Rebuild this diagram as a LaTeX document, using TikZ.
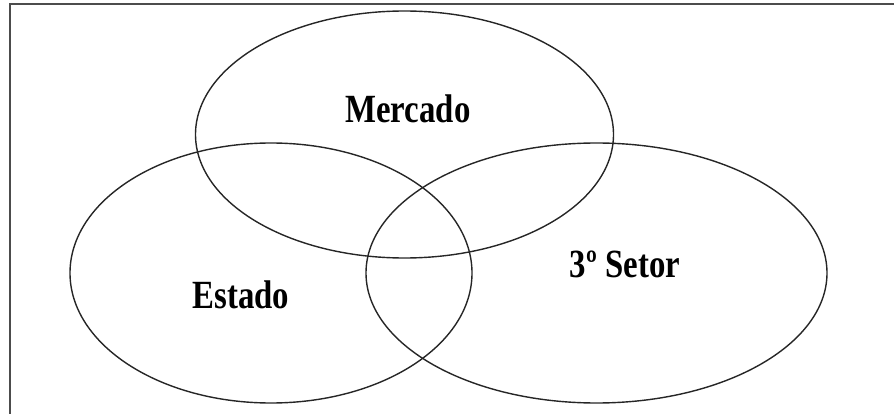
\documentclass[tikz,border=0pt]{standalone}
\usepackage{fontspec}
\setmainfont{Liberation Serif}
\usepackage{graphicx}
\begin{document}
\begin{tikzpicture}[x=1pt,y=-1pt,
  setcircle/.style={draw=black!85,line width=1.4pt},
  setlabel/.style={anchor=base,inner sep=0pt,font=\fontsize{40}{44}\selectfont\bfseries},
  frameline/.style={draw=black!70,line width=2pt}]
\useasboundingbox (0,0) rectangle (894,414);
\draw[frameline] (10,414) -- (10,4) -- (894,4);
\draw[setcircle] (404.5,134.5) ellipse [x radius=209, y radius=123.5];
\draw[setcircle] (271,273) ellipse [x radius=201, y radius=130];
\draw[setcircle] (596.5,273) ellipse [x radius=230.5, y radius=130];
\node[setlabel] (mercado) at (408,123) {\scalebox{0.82}[1]{Mercado}};
\node[setlabel] (estado) at (241,308) {\scalebox{0.82}[1]{Estado}};
\node[setlabel] (setor) at (625,277) {\scalebox{0.82}[1]{3º Setor}};
\end{tikzpicture}
\end{document}
